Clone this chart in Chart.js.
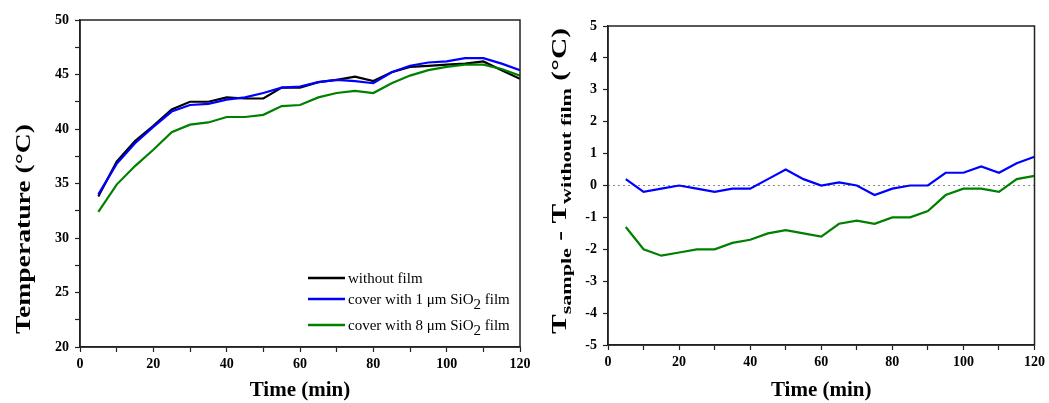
<!DOCTYPE html>
<html>
<head>
<meta charset="utf-8">
<script src="https://cdn.jsdelivr.net/npm/chart.js@4.4.0/dist/chart.umd.min.js"></script>
<style>
  body { margin: 0; background: #fff; }
  .wrap { position: absolute; top: 0; height: 403px; }
  #left { left: 0; width: 540px; }
  #right { left: 540px; width: 509px; }
</style>
</head>
<body>
<div class="wrap" id="left"><canvas id="tempChart"></canvas></div>
<div class="wrap" id="right"><canvas id="diffChart"></canvas></div>
<script>
/* ===== DATA ===== */
const times = [5, 10, 15, 20, 25, 30, 35, 40, 45, 50, 55, 60, 65, 70, 75, 80, 85, 90, 95, 100, 105, 110, 115, 120];

const tempWithout = [33.8, 37.0, 38.9, 40.3, 41.8, 42.5, 42.5, 42.9, 42.8, 42.8, 43.8, 43.8, 44.3, 44.5, 44.8, 44.4, 45.2, 45.7, 45.8, 45.9, 46.0, 46.2, 45.4, 44.6];
const temp1um     = [34.0, 36.8, 38.7, 40.2, 41.6, 42.2, 42.3, 42.7, 42.9, 43.3, 43.8, 43.9, 44.3, 44.5, 44.4, 44.2, 45.2, 45.8, 46.1, 46.2, 46.5, 46.5, 46.0, 45.4];
const temp8um     = [32.4, 34.9, 36.6, 38.1, 39.7, 40.4, 40.6, 41.1, 41.1, 41.3, 42.1, 42.2, 42.9, 43.3, 43.5, 43.3, 44.2, 44.9, 45.4, 45.7, 45.9, 45.9, 45.5, 44.9];

const diff1um = [0.2, -0.2, -0.1, 0.0, -0.1, -0.2, -0.1, -0.1, 0.2, 0.5, 0.2, 0.0, 0.1, 0.0, -0.3, -0.1, 0.0, 0.0, 0.4, 0.4, 0.6, 0.4, 0.7, 0.9];
const diff8um = [-1.3, -2.0, -2.2, -2.1, -2.0, -2.0, -1.8, -1.7, -1.5, -1.4, -1.5, -1.6, -1.2, -1.1, -1.2, -1.0, -1.0, -0.8, -0.3, -0.1, -0.1, -0.2, 0.2, 0.3];

const zeroX = [0, 120];
const zeroY = [0, 0];

const seriesLabels = ["without film", "cover with 1 \u03bcm SiO_2 film", "cover with 8 \u03bcm SiO_2 film"];

/* ===== HELPERS ===== */
const serif = "'Liberation Serif', 'Times New Roman', serif";
Chart.defaults.font.family = serif;
Chart.defaults.color = "#000";

function pairs(xs, ys) {
  return xs.map((x, i) => ({ x: x, y: ys[i] }));
}

function lineSet(label, xs, ys, color, order) {
  return {
    label: label,
    data: pairs(xs, ys),
    borderColor: color,
    backgroundColor: color,
    borderWidth: 2.2,
    pointRadius: 0,
    tension: 0,
    fill: false,
    order: order
  };
}

// "_2" or "_{text}" -> subscript
function parseRich(text, size, subSize, weight, drop) {
  const segs = [];
  const re = /_\{([^}]*)\}|_(\S)/g;
  let last = 0, m;
  while ((m = re.exec(text)) !== null) {
    if (m.index > last) segs.push({ t: text.slice(last, m.index), size: size, dy: 0 });
    segs.push({ t: m[1] || m[2], size: subSize, dy: drop });
    last = re.lastIndex;
  }
  if (last < text.length) segs.push({ t: text.slice(last), size: size, dy: 0 });
  return segs.map(s => Object.assign(s, { weight: weight }));
}

function richWidth(ctx, segs) {
  let w = 0;
  segs.forEach(s => {
    ctx.font = `${s.weight} ${s.size}px ${serif}`;
    w += ctx.measureText(s.t).width;
  });
  return w;
}

function drawRich(ctx, segs, x, y) {
  segs.forEach(s => {
    ctx.font = `${s.weight} ${s.size}px ${serif}`;
    ctx.fillText(s.t, x, y + s.dy);
    x += ctx.measureText(s.t).width;
  });
}

/* ===== PLUGINS ===== */
const frameBox = {
  id: "frameBox",
  afterDatasetsDraw(chart) {
    const a = chart.chartArea;
    const ctx = chart.ctx;
    ctx.save();
    ctx.strokeStyle = "#222";
    ctx.lineWidth = 1.5;
    ctx.strokeRect(a.left, a.top, a.right - a.left, a.bottom - a.top);
    ctx.restore();
  }
};

const yTitle = {
  id: "yTitle",
  afterDraw(chart, args, opts) {
    if (!opts.text) return;
    const ctx = chart.ctx;
    const segs = parseRich(opts.text, opts.size, opts.subSize, "bold", opts.drop);
    const w = richWidth(ctx, segs);
    ctx.save();
    ctx.translate(opts.x, opts.center);
    ctx.rotate(-Math.PI / 2);
    ctx.scale(opts.length / w, 1);
    ctx.fillStyle = "#000";
    ctx.textAlign = "left";
    ctx.textBaseline = "alphabetic";
    drawRich(ctx, segs, -w / 2, 0);
    ctx.restore();
  }
};

const richLegend = {
  id: "richLegend",
  afterDraw(chart, args, opts) {
    if (!opts.rows) return;
    const ctx = chart.ctx;
    ctx.save();
    ctx.fillStyle = "#000";
    ctx.textAlign = "left";
    ctx.textBaseline = "alphabetic";
    opts.rows.forEach((rowY, i) => {
      const ds = chart.data.datasets[i];
      ctx.strokeStyle = ds.borderColor;
      ctx.lineWidth = 2.5;
      ctx.beginPath();
      ctx.moveTo(opts.x, rowY);
      ctx.lineTo(opts.x + 37, rowY);
      ctx.stroke();
      drawRich(ctx, parseRich(ds.label, 15, 15, "normal", 5), opts.x + 40, rowY + 5);
    });
    ctx.restore();
  }
};

/* ===== SCALES ===== */
const tickFont = { size: 14, weight: "bold" };

function xScale(height) {
  return {
    type: "linear",
    min: 0,
    max: 120,
    ticks: {
      stepSize: 10,
      autoSkip: false,
      maxRotation: 0,
      padding: 4,
      font: tickFont,
      color: "#000",
      callback: v => (v % 20 === 0 ? v : "")
    },
    grid: { drawOnChartArea: false, drawTicks: true, tickLength: 5, tickColor: "#222", tickWidth: 1.2 },
    border: { color: "#222", width: 1.5 },
    title: {
      display: true,
      text: "Time (min)",
      font: { size: 21, weight: "bold" },
      color: "#000",
      padding: { top: 0, bottom: 0 }
    },
    afterFit: s => { s.height = height; }
  };
}

function yScale(min, max, step, labelStep, width) {
  return {
    min: min,
    max: max,
    ticks: {
      stepSize: step,
      autoSkip: false,
      padding: 6,
      font: tickFont,
      color: "#000",
      callback: v => (Math.abs(v % labelStep) < 1e-9 ? v : "")
    },
    grid: { drawOnChartArea: false, drawTicks: true, tickLength: 5, tickColor: "#222", tickWidth: 1.2 },
    border: { color: "#222", width: 1.5 },
    title: { display: false },
    afterFit: s => { s.width = width; }
  };
}

/* ===== LEFT CHART: TEMPERATURE ===== */
new Chart(document.getElementById("tempChart"), {
  type: "line",
  data: {
    datasets: [
      lineSet(seriesLabels[0], times, tempWithout, "#000000", 3),
      lineSet(seriesLabels[1], times, temp1um, "#0000ff", 2),
      lineSet(seriesLabels[2], times, temp8um, "#008000", 1)
    ]
  },
  options: {
    responsive: true,
    maintainAspectRatio: false,
    animation: false,
    layout: { padding: { top: 20, right: 20, left: 0, bottom: 0 } },
    scales: {
      x: xScale(56),
      y: yScale(20, 50, 2.5, 5, 80)
    },
    plugins: {
      legend: { display: false },
      tooltip: { enabled: false },
      yTitle: { text: "Temperature (\u00b0C)", size: 20, subSize: 15, drop: 5, x: 30, center: 229, length: 210 },
      richLegend: { x: 308, rows: [278, 299, 325] }
    }
  },
  plugins: [frameBox, yTitle, richLegend]
});

/* ===== RIGHT CHART: DIFFERENCE ===== */
new Chart(document.getElementById("diffChart"), {
  type: "line",
  data: {
    datasets: [
      {
        label: "zero",
        data: pairs(zeroX, zeroY),
        borderColor: "#888",
        borderWidth: 1,
        borderDash: [2, 3],
        pointRadius: 0,
        order: 3
      },
      lineSet(seriesLabels[1], times, diff1um, "#0000ff", 2),
      lineSet(seriesLabels[2], times, diff8um, "#008000", 1)
    ]
  },
  options: {
    responsive: true,
    maintainAspectRatio: false,
    animation: false,
    layout: { padding: { top: 26, right: 11, left: 0, bottom: 0 } },
    scales: {
      x: xScale(58),
      y: yScale(-5, 5, 1, 1, 68)
    },
    plugins: {
      legend: { display: false },
      tooltip: { enabled: false },
      yTitle: { text: "T_{sample} - T_{without film} (\u00b0C)", size: 20, subSize: 15, drop: 5, x: 26, center: 181, length: 306 }
    }
  },
  plugins: [frameBox, yTitle]
});
</script>
</body>
</html>
